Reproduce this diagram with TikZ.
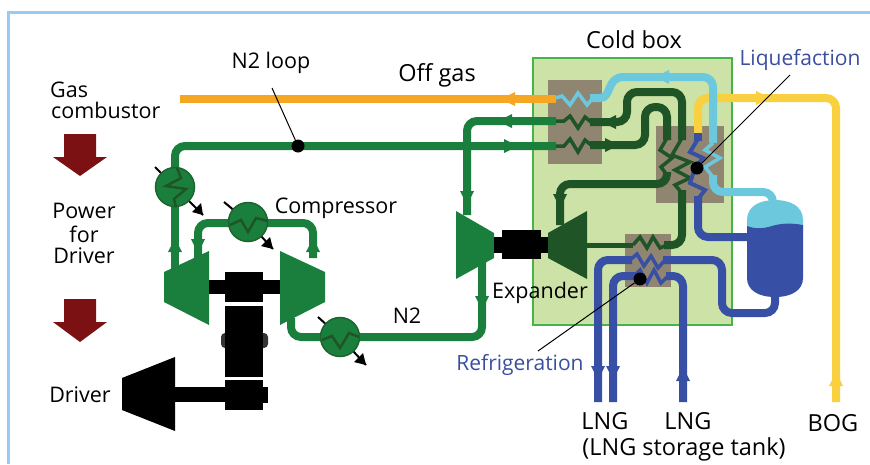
\documentclass[tikz,border=0pt]{standalone}
\usepackage{fontspec}
\setmainfont{Open Sans}
\definecolor{frameblue}{HTML}{99C9F5}
\definecolor{boxgreen}{HTML}{CDE2A6}
\definecolor{boxedge}{HTML}{45B549}
\definecolor{hxbrown}{HTML}{8F8570}
\definecolor{ngreen}{HTML}{1A7F3C}
\definecolor{dgreen}{HTML}{1F5426}
\definecolor{lblue}{HTML}{6CC8DC}
\definecolor{nblue}{HTML}{3750A6}
\definecolor{offorange}{HTML}{F5A623}
\definecolor{bogyellow}{HTML}{F9D03F}
\definecolor{darkred}{HTML}{7B1113}
\definecolor{labelblue}{HTML}{3B4FA0}
\tikzset{
  x=1pt,y=-1pt,
  lbl/.style={font=\fontsize{21.5}{24}\selectfont,text=black,inner sep=0pt,align=center},
  lblbig/.style={font=\fontsize{23.5}{26}\selectfont,text=black,inner sep=0pt,align=center},
  bluelbl/.style={font=\fontsize{21}{24}\selectfont,inner sep=0pt,text=labelblue},
  pipe/.style={line width=8pt,rounded corners=10pt,line cap=butt},
  coil/.style={line width=3.5pt,line join=miter},
  hotspot/.style={circle,fill=black,minimum size=13pt,inner sep=0pt},
  leader/.style={black,line width=1pt},
  cooler/.style={circle,draw=dgreen!60!ngreen,line width=1.5pt,fill=ngreen,minimum size=39pt,inner sep=0pt},
  outarrow/.style={black,line width=2pt},
  zigline/.style={dgreen,line width=2.5pt}
}
% colour, tip x, tip y, rotation (0 right, 90 up, 180 left, -90 down)
\newcommand{\flowhead}[4]{\fill[#1,shift={(#2,#3)},rotate=#4] (0,0) -- (-14,7) -- (-14,-7) -- cycle;}
\begin{document}
\begin{tikzpicture}
\useasboundingbox (0,0) rectangle (870,464);
\fill[white] (0,0) rectangle (870,464);
% frame
\fill[frameblue] (7,11) rectangle (870,14);
\fill[frameblue] (7,11) rectangle (10,464);
% cold box
\node[draw=boxedge,fill=boxgreen,line width=2.5pt,minimum width=199pt,minimum height=267pt,inner sep=0pt,outer sep=0pt] (box) at (632.5,191.5) {};
% exchanger backgrounds
\fill[hxbrown] (548,80) rectangle (602,164);
\fill[hxbrown] (656,126) rectangle (724,203);
\fill[hxbrown] (625,234) rectangle (671,287);

% yellow BOG
\draw[bogyellow,pipe] (698,134) -- (698,98) -- (836,98) -- (836,402);
\flowhead{bogyellow}{770}{98}{0}
\flowhead{bogyellow}{836}{372}{90}
% off gas
\draw[offorange,line width=8pt] (180,99) -- (556,99);
\flowhead{offorange}{501}{99}{180}
% light blue
\draw[lblue,line width=8pt] (590,98) -- (600,98) .. controls (612,98) and (606,77) .. (624,77);
\draw[lblue,pipe] (623,77) -- (713,77) -- (713,143);
\draw[lblue,coil] (556,98) -- (562,96) -- (570,105) -- (578,93) -- (587,105) -- (593,98);
\flowhead{lblue}{655}{77}{180}
\draw[lblue,coil] (713,143) -- (705,150) -- (720,158) -- (705,167) -- (713,177);
\draw[lblue,pipe] (713,175) -- (713,192) -- (773,192) -- (773,204);
% N2 loop
\draw[ngreen,pipe] (175,170) -- (175,146) -- (556,146);
\draw[ngreen,pipe] (556,121) -- (467,121) -- (467,215);
\flowhead{ngreen}{498}{121}{180}
\flowhead{ngreen}{518}{146}{0}
\flowhead{ngreen}{467}{205}{-90}
\draw[dgreen,coil] (556,121) -- (564,121) -- (570,116) -- (578,128) -- (585,117) -- (591,122);
\draw[dgreen,coil] (556,146) -- (564,146) -- (570,139) -- (578,152) -- (585,140) -- (591,145);
% dark green return lines
\draw[dgreen,pipe] (590,122) -- (627,122) -- (627,92) -- (682,92) -- (682,140);
\draw[dgreen,pipe] (590,145) -- (645,145) -- (645,107) -- (667,107) -- (667,140);
\flowhead{dgreen}{602}{122}{180}
\flowhead{dgreen}{619}{145}{0}
\draw[dgreen,coil] (667,138) -- (660,150) -- (672,158) -- (661,167) -- (667,175);
\draw[dgreen,coil] (682,138) -- (672,155) -- (690,162) -- (675,170) -- (690,178) -- (675,185) -- (682,193);
\draw[dgreen,pipe] (667,172) -- (667,184) -- (560,184) -- (560,225);
\flowhead{dgreen}{560}{208}{-90}
\draw[dgreen,pipe] (682,190) -- (682,245) -- (664,245);
% blue liquefaction
\draw[nblue,line width=8pt] (698,133) -- (698,141);
\draw[nblue,coil,line width=4pt] (698,139) -- (690,152) -- (703,158) -- (695,168) -- (690,183) -- (705,190) -- (698,199);
\draw[nblue,pipe] (698,196) -- (698,237) -- (750,237);
% tank
\draw[nblue,pipe] (663,260) -- (722,260) -- (722,313) -- (775,313) -- (775,292);
\fill[lblue] (747,230) -- (747,220) .. controls (747,206) and (760,200) .. (775,200) .. controls (790,200) and (803,206) .. (803,220) -- (803,230) -- cycle;
\fill[nblue] (747,226) .. controls (755,229) and (762,229) .. (772,226) .. controls (782,223) and (792,223) .. (803,225) -- (803,278) .. controls (803,290) and (792,297) .. (775,297) .. controls (758,297) and (747,290) .. (747,278) -- cycle;
% lower exchanger
\draw[dgreen,line width=5pt] (587,245) -- (633,245);
\draw[nblue,pipe] (598,402) -- (598,260) -- (632,260);
\draw[nblue,pipe] (613,402) -- (613,276) -- (636,276);
\draw[nblue,pipe] (666,276) -- (683,276) -- (683,402);
\draw[dgreen,coil] (633,245) -- (640,237) -- (647,248) -- (653,237) -- (660,248) -- (667,245);
\draw[nblue,coil] (630,260) -- (637,254) -- (644,266) -- (651,256) -- (658,268) -- (665,260);
\draw[nblue,coil] (634,276) -- (640,270) -- (647,283) -- (654,270) -- (661,283) -- (668,276);
\flowhead{nblue}{598}{380}{-90}
\flowhead{nblue}{613}{380}{-90}
\flowhead{nblue}{683}{367}{90}
% expander
\fill[ngreen] (456,211) -- (494,233) -- (494,258) -- (456,279) -- cycle;
\fill[dgreen] (587,211) -- (548,233) -- (548,258) -- (587,279) -- cycle;
\fill[black] (494,237) rectangle (548,253);
\fill[black] (502,230) rectangle (541,259);
\draw[ngreen,pipe] (482,258) -- (482,337) -- (291,337) -- (291,318);
\flowhead{ngreen}{482}{310}{-90}
% compressors and drive train
\fill[ngreen] (164,272) -- (209,251) -- (209,325) -- (164,302) -- cycle;
\fill[ngreen] (325,272) -- (280,251) -- (280,325) -- (325,302) -- cycle;
\fill[black] (209,280) rectangle (280,294);
\fill[black] (225,272) rectangle (263,302);
\fill[black!80,rounded corners=4pt] (221,333) rectangle (268,348);
\fill[black] (225,306) rectangle (263,377);
\fill[black] (225,380) rectangle (263,410);
\fill[black] (263,387) rectangle (268,403);
\fill[black] (122,378) -- (175,357) -- (175,431) -- (122,410) -- cycle;
\fill[black] (175,387) rectangle (225,402);
% compressor pipes
\draw[ngreen,line width=8pt] (175,170) -- (175,270);
\draw[ngreen,pipe] (198,258) -- (198,223) -- (313,223) -- (313,258);
\flowhead{ngreen}{175}{238}{90}
\flowhead{ngreen}{198}{253}{-90}
\flowhead{ngreen}{313}{238}{90}
% coolers
\coordinate (c1in) at (155,167);
\coordinate (c1out) at (203,215);
\node[cooler] (c1) at (175,187) {};
\draw[outarrow] (c1in) -- (c1);
\draw[outarrow] (c1) -- (c1out);
\draw[zigline] (177,168) -- (181,178) -- (166,186) -- (186,189) -- (174,199) -- (176,207);
\coordinate (c2in) at (224,202);
\coordinate (c2out) at (273,249);
\node[cooler] (c2) at (248,222) {};
\draw[outarrow] (c2in) -- (c2);
\draw[outarrow] (c2) -- (c2out);
\draw[zigline] (230,225) -- (241,220) -- (248,232) -- (256,218) -- (268,221);
\coordinate (c3in) at (318,317);
\coordinate (c3out) at (366,365);
\node[cooler] (c3) at (340,337) {};
\draw[outarrow] (c3in) -- (c3);
\draw[outarrow] (c3) -- (c3out);
\draw[zigline] (322,340) -- (332,336) -- (340,348) -- (349,333) -- (359,337);
\fill[black] (c1out) -- (192,212) -- (201,203) -- cycle;
\fill[black] (c2out) -- (261,246) -- (270,237) -- cycle;
\fill[black] (c3out) -- (354,362) -- (363,353) -- cycle;
% red arrows
\fill[darkred] (64,134) -- (96,134) -- (96,157) -- (107,157) -- (80,176) -- (53,157) -- (64,157) -- cycle;
\fill[darkred] (64,299) -- (96,299) -- (96,322) -- (107,322) -- (80,342) -- (53,322) -- (64,322) -- cycle;
% leaders
\node[hotspot] (d1) at (298,146) {};
\coordinate (l1) at (272,88);
\draw[leader] (l1) -- (d1);
\node[hotspot] (d2) at (697,168) {};
\coordinate (l2) at (790,75);
\draw[leader] (l2) -- (d2);
\node[hotspot] (d3) at (640,279) {};
\coordinate (l3) at (538,351);
\draw[leader] (l3) -- (d3);
% labels
\node[lbl,anchor=west] (t1) at (50,90) {Gas};
\node[lbl,anchor=west] (t2) at (51,110) {combustor};
\node[lbl] (t3) at (271,63) {N2 loop};
\node[lblbig] (t4) at (437,75) {Off gas};
\node[lblbig] (t5) at (634,40) {Cold box};
\node[bluelbl] (t6) at (800,60) {Liquefaction};
\node[lbl] (t7) at (336,208) {Compressor};
\node[lbl] (t8) at (84,211) {Power};
\node[lbl] (t9) at (84,234) {for};
\node[lbl] (t10) at (84,256) {Driver};
\node[lbl] (t11) at (80,395) {Driver};
\node[lbl] (t12) at (407,316) {N2};
\node[lbl] (t13) at (540,293) {Expander};
\node[bluelbl] (t14) at (520,365) {Refrigeration};
\node[lblbig] (t15) at (605,421) {LNG};
\node[lblbig] (t16) at (688,421) {LNG};
\node[lblbig] (t17) at (833,423) {BOG};
\node[lblbig] (t18) at (684,449) {(LNG storage tank)};
\end{tikzpicture}
\end{document}
